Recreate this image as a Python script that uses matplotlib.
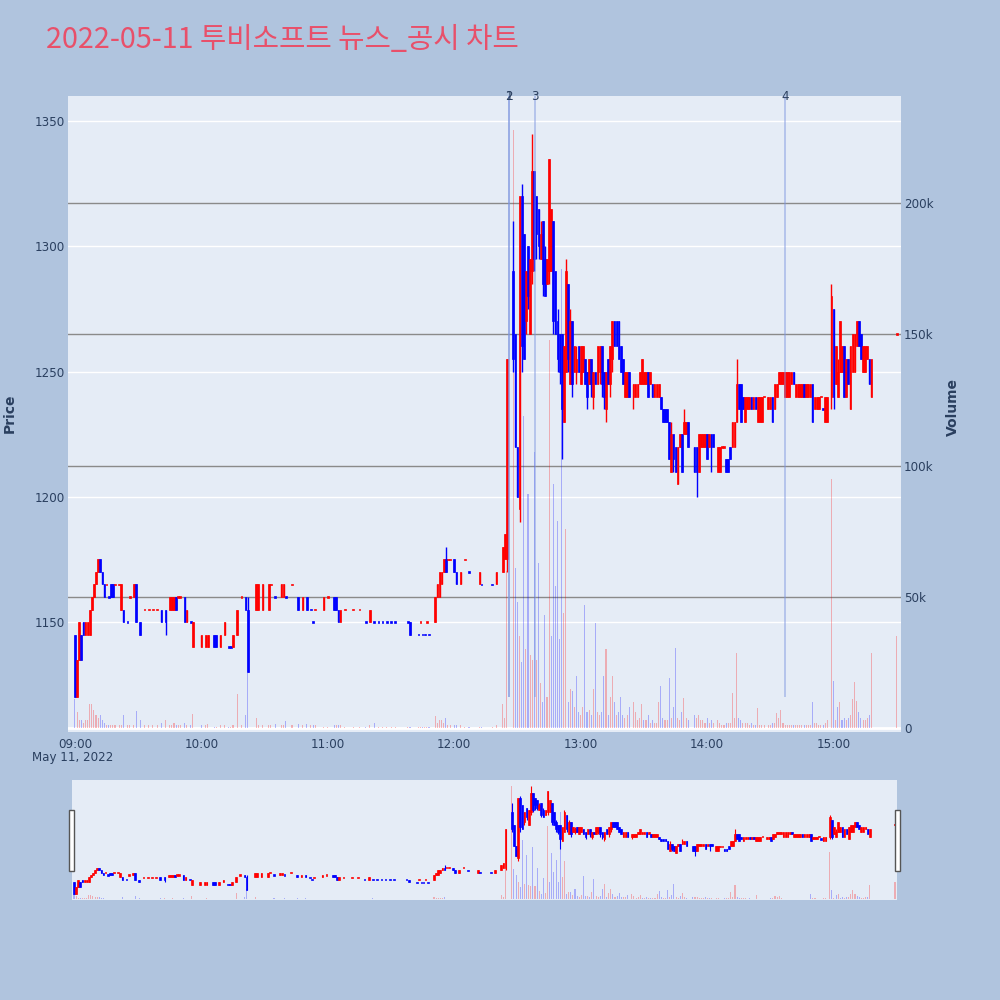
import matplotlib.pyplot as plt
import numpy as np
from matplotlib.patches import Rectangle
from matplotlib.transforms import blended_transform_factory

plt.rcParams['font.family'] = ['DejaVu Sans', 'Noto Sans CJK KR']

title = '2022-05-11 투비소프트 뉴스_공시 차트'

# minutes after 09:00, one row per traded minute (segments roughly hourly)
minutes = [
    0, 1, 2, 3, 4, 5, 6, 7, 8, 9, 10, 11, 12, 13, 14, 15, 16, 17, 18, 19, 21, 22, 23, 25, 26, 28, 29, 31, 33, 35, 37, 39, 41, 43, 45, 46, 47, 48, 49, 50, 52, 53, 55, 56, 60, 62,
    63, 66, 67, 69, 71, 73, 74, 75, 77, 79, 81, 82, 86, 87, 89, 92, 93, 95, 98, 99, 100, 103, 106, 108, 110, 112, 113, 114, 118, 120, 123, 124, 125, 126,
    128, 132, 135, 138, 140, 142, 144, 146, 148, 150, 152, 158, 159, 163, 164, 165, 166, 167, 168, 171, 172, 173, 174, 175, 176, 177, 178, 180, 181, 183, 185, 187, 192, 193, 198, 200,
    203, 204, 205, 208, 209, 210, 211, 212, 213, 214, 215, 216, 217, 218, 219, 220, 221, 222, 223, 224, 225, 226, 227, 228, 229, 230, 231, 232, 233, 234, 235, 236, 237, 238, 239, 240, 241, 242, 243, 244, 245, 246, 247, 248, 249, 250, 251, 252, 253, 254, 255, 256,
    257, 258, 259, 260, 261, 262, 263, 265, 266, 267, 268, 269, 270, 271, 272, 273, 274, 275, 276, 277, 278, 279, 280, 281, 282, 283, 284, 285, 286, 287, 288, 289, 290, 291, 294, 295, 296, 297, 298, 299, 300, 301, 302, 303, 305, 306, 307, 308, 309, 310, 311, 312, 313, 314, 315, 316, 317, 318, 319, 320,
    321, 322, 323, 324, 325, 326, 327, 329, 330, 331, 332, 333, 334, 335, 336, 337, 338, 339, 340, 341, 342, 343, 344, 345, 346, 347, 348, 349, 350, 351, 352, 353, 354, 355, 356, 357, 359, 360, 361, 362, 363, 364, 365, 366, 367, 368, 369, 370, 371, 372, 373, 374, 375, 376, 377, 378, 390,
]
opens = [
    1145, 1120, 1135, 1145, 1150, 1145, 1145, 1145, 1155, 1160, 1165, 1170, 1175, 1170, 1165, 1165, 1160, 1165, 1165, 1165, 1165, 1155, 1155, 1150, 1160, 1160, 1165, 1150, 1155, 1155, 1155, 1155, 1155, 1155, 1155, 1155, 1155, 1160, 1160, 1160, 1160, 1150, 1150, 1140, 1140, 1140,
    1140, 1145, 1145, 1140, 1145, 1140, 1140, 1140, 1145, 1160, 1160, 1155, 1155, 1155, 1155, 1155, 1165, 1160, 1160, 1160, 1160, 1165, 1160, 1155, 1160, 1155, 1150, 1155, 1155, 1160, 1160, 1160, 1155, 1150,
    1155, 1155, 1155, 1150, 1150, 1150, 1150, 1150, 1150, 1150, 1150, 1150, 1150, 1145, 1150, 1145, 1145, 1150, 1145, 1150, 1160, 1160, 1165, 1170, 1175, 1175, 1175, 1175, 1170, 1165, 1175, 1170, 1165, 1165, 1165, 1165,
    1170, 1175, 1175, 1290, 1265, 1220, 1195, 1320, 1305, 1270, 1300, 1265, 1290, 1330, 1320, 1315, 1295, 1310, 1295, 1285, 1290, 1290, 1310, 1290, 1270, 1265, 1265, 1230, 1250, 1285, 1245, 1270, 1250, 1250, 1260, 1245, 1250, 1255, 1250, 1245, 1255, 1240, 1250, 1245, 1250, 1260, 1250, 1235, 1255, 1245, 1255, 1270,
    1270, 1270, 1260, 1255, 1240, 1240, 1250, 1240, 1240, 1240, 1245, 1245, 1245, 1245, 1250, 1245, 1245, 1240, 1240, 1240, 1240, 1235, 1235, 1235, 1230, 1210, 1225, 1220, 1205, 1220, 1225, 1225, 1225, 1230, 1220, 1220, 1210, 1220, 1220, 1220, 1225, 1220, 1225, 1225, 1210, 1210, 1220, 1220, 1215, 1215, 1220, 1220, 1220, 1230, 1245, 1245, 1240, 1230, 1235, 1235,
    1240, 1235, 1240, 1230, 1230, 1230, 1240, 1235, 1235, 1240, 1235, 1240, 1245, 1245, 1245, 1240, 1240, 1240, 1245, 1250, 1240, 1240, 1240, 1240, 1245, 1240, 1240, 1240, 1245, 1235, 1235, 1235, 1240, 1235, 1230, 1230, 1240, 1275, 1245, 1240, 1250, 1250, 1260, 1240, 1255, 1235, 1250, 1250, 1260, 1270, 1265, 1250, 1250, 1255, 1255, 1240, 1265,
]
highs = [
    1145, 1135, 1150, 1145, 1150, 1150, 1150, 1155, 1160, 1165, 1170, 1175, 1175, 1170, 1165, 1165, 1160, 1165, 1165, 1165, 1165, 1165, 1155, 1150, 1160, 1165, 1165, 1150, 1155, 1155, 1155, 1155, 1155, 1155, 1160, 1160, 1160, 1160, 1160, 1160, 1160, 1155, 1150, 1150, 1145, 1145,
    1145, 1145, 1145, 1145, 1150, 1140, 1140, 1145, 1155, 1160, 1160, 1160, 1165, 1165, 1165, 1165, 1165, 1160, 1165, 1165, 1160, 1165, 1160, 1160, 1160, 1155, 1150, 1155, 1160, 1160, 1160, 1160, 1155, 1155,
    1155, 1155, 1155, 1150, 1155, 1150, 1150, 1150, 1150, 1150, 1150, 1150, 1150, 1145, 1150, 1145, 1145, 1150, 1145, 1160, 1165, 1170, 1170, 1175, 1180, 1175, 1175, 1175, 1170, 1170, 1175, 1170, 1170, 1165, 1165, 1170,
    1180, 1185, 1255, 1310, 1265, 1220, 1320, 1325, 1305, 1290, 1300, 1295, 1345, 1330, 1320, 1315, 1310, 1310, 1300, 1295, 1335, 1315, 1310, 1290, 1275, 1265, 1265, 1260, 1295, 1285, 1275, 1270, 1260, 1260, 1260, 1260, 1260, 1255, 1250, 1255, 1255, 1250, 1250, 1260, 1260, 1260, 1250, 1250, 1255, 1260, 1270, 1270,
    1270, 1270, 1260, 1255, 1250, 1250, 1250, 1245, 1245, 1245, 1250, 1255, 1250, 1250, 1250, 1250, 1245, 1245, 1245, 1245, 1240, 1235, 1235, 1235, 1230, 1230, 1225, 1220, 1220, 1225, 1225, 1235, 1230, 1230, 1220, 1220, 1225, 1225, 1225, 1225, 1225, 1225, 1225, 1225, 1220, 1220, 1220, 1220, 1215, 1215, 1220, 1230, 1230, 1255, 1245, 1245, 1240, 1240, 1240, 1240,
    1240, 1240, 1240, 1240, 1240, 1240, 1240, 1240, 1240, 1240, 1245, 1245, 1250, 1250, 1250, 1250, 1250, 1250, 1250, 1250, 1245, 1245, 1245, 1245, 1245, 1245, 1245, 1245, 1245, 1240, 1240, 1240, 1240, 1235, 1240, 1240, 1285, 1275, 1260, 1255, 1270, 1260, 1260, 1255, 1255, 1260, 1265, 1265, 1270, 1270, 1265, 1260, 1260, 1260, 1255, 1255, 1265,
]
lows = [
    1120, 1120, 1135, 1135, 1145, 1145, 1145, 1145, 1155, 1160, 1165, 1170, 1170, 1165, 1160, 1165, 1160, 1160, 1160, 1165, 1165, 1155, 1150, 1150, 1160, 1160, 1150, 1145, 1155, 1155, 1155, 1155, 1150, 1145, 1155, 1155, 1155, 1155, 1160, 1160, 1150, 1150, 1150, 1140, 1140, 1140,
    1140, 1140, 1140, 1140, 1145, 1140, 1140, 1140, 1145, 1160, 1155, 1130, 1155, 1155, 1155, 1155, 1165, 1160, 1160, 1160, 1160, 1165, 1155, 1155, 1155, 1155, 1150, 1155, 1155, 1160, 1155, 1155, 1150, 1150,
    1155, 1155, 1155, 1150, 1150, 1150, 1150, 1150, 1150, 1150, 1150, 1150, 1145, 1145, 1150, 1145, 1145, 1150, 1145, 1150, 1160, 1160, 1165, 1170, 1170, 1175, 1175, 1170, 1165, 1165, 1175, 1170, 1165, 1165, 1165, 1165,
    1170, 1175, 1170, 1250, 1220, 1200, 1190, 1250, 1255, 1265, 1275, 1265, 1285, 1290, 1295, 1295, 1295, 1280, 1280, 1285, 1285, 1290, 1265, 1265, 1250, 1245, 1215, 1230, 1250, 1250, 1245, 1240, 1250, 1245, 1250, 1245, 1250, 1245, 1235, 1245, 1240, 1235, 1245, 1245, 1245, 1240, 1235, 1230, 1245, 1240, 1250, 1260,
    1260, 1255, 1250, 1245, 1240, 1240, 1240, 1235, 1240, 1240, 1245, 1245, 1245, 1245, 1240, 1245, 1240, 1240, 1240, 1240, 1235, 1230, 1230, 1230, 1215, 1210, 1210, 1210, 1205, 1220, 1210, 1225, 1225, 1220, 1210, 1200, 1210, 1220, 1220, 1220, 1215, 1220, 1210, 1220, 1210, 1210, 1220, 1220, 1210, 1210, 1215, 1220, 1220, 1230, 1235, 1230, 1235, 1230, 1235, 1235,
    1235, 1235, 1235, 1230, 1230, 1230, 1240, 1235, 1235, 1230, 1235, 1240, 1245, 1245, 1245, 1240, 1240, 1240, 1245, 1245, 1240, 1240, 1240, 1240, 1240, 1240, 1240, 1240, 1230, 1235, 1235, 1235, 1240, 1235, 1230, 1230, 1235, 1235, 1245, 1240, 1250, 1250, 1240, 1240, 1245, 1235, 1250, 1250, 1260, 1260, 1255, 1250, 1250, 1255, 1245, 1240, 1265,
]
closes = [
    1120, 1135, 1150, 1135, 1145, 1150, 1150, 1155, 1160, 1165, 1170, 1175, 1170, 1165, 1160, 1165, 1160, 1160, 1160, 1165, 1165, 1165, 1150, 1150, 1160, 1165, 1150, 1145, 1155, 1155, 1155, 1155, 1150, 1150, 1160, 1160, 1160, 1155, 1160, 1160, 1150, 1155, 1150, 1150, 1145, 1145,
    1145, 1140, 1140, 1145, 1150, 1140, 1140, 1145, 1155, 1160, 1155, 1130, 1165, 1165, 1165, 1165, 1165, 1160, 1165, 1165, 1160, 1165, 1155, 1160, 1155, 1155, 1150, 1155, 1160, 1160, 1155, 1155, 1150, 1155,
    1155, 1155, 1155, 1150, 1155, 1150, 1150, 1150, 1150, 1150, 1150, 1150, 1145, 1145, 1150, 1145, 1145, 1150, 1145, 1160, 1165, 1170, 1170, 1175, 1170, 1175, 1175, 1170, 1165, 1170, 1175, 1170, 1170, 1165, 1165, 1170,
    1180, 1185, 1255, 1255, 1220, 1200, 1320, 1260, 1255, 1290, 1280, 1295, 1330, 1295, 1305, 1300, 1305, 1285, 1280, 1295, 1335, 1315, 1270, 1265, 1255, 1250, 1235, 1260, 1290, 1255, 1270, 1245, 1260, 1255, 1250, 1260, 1260, 1245, 1240, 1255, 1245, 1250, 1245, 1260, 1260, 1245, 1240, 1250, 1245, 1260, 1270, 1260,
    1260, 1255, 1250, 1245, 1250, 1250, 1240, 1245, 1245, 1245, 1250, 1255, 1250, 1250, 1240, 1250, 1240, 1245, 1245, 1245, 1235, 1230, 1230, 1230, 1215, 1225, 1215, 1210, 1220, 1225, 1210, 1230, 1230, 1220, 1210, 1210, 1225, 1225, 1225, 1225, 1215, 1225, 1220, 1220, 1220, 1220, 1220, 1220, 1210, 1210, 1215, 1230, 1230, 1245, 1235, 1230, 1235, 1240, 1240, 1240,
    1235, 1240, 1235, 1240, 1240, 1240, 1240, 1240, 1240, 1230, 1245, 1245, 1250, 1250, 1250, 1250, 1250, 1250, 1250, 1245, 1245, 1245, 1245, 1245, 1240, 1245, 1245, 1245, 1230, 1240, 1240, 1240, 1240, 1235, 1240, 1240, 1280, 1240, 1260, 1250, 1270, 1260, 1240, 1255, 1245, 1260, 1265, 1265, 1270, 1260, 1255, 1260, 1260, 1260, 1245, 1255, 1265,
]
# volume in thousands of shares
volumes = [
    11, 6, 3, 3, 2, 3, 3, 9, 9, 7, 5, 4, 5, 3, 2, 1, 1, 1, 1, 1, 1, 1, 5, 1, 1, 1, 6.5, 3, 1, 1, 1, 1, 2, 3, 1, 1, 2, 1, 1, 1, 2, 1, 1, 5.5, 1, 1,
    1.5, 0.5, 0.5, 1, 1, 0.5, 0.5, 1, 13, 1, 5, 21, 4, 1, 1, 1, 1, 1.5, 1, 1, 2.6, 1, 1.5, 1, 1.5, 1, 1, 1, 0.5, 0.5, 1, 1, 1, 1,
    0.5, 0.5, 0.5, 0.5, 1, 2, 0.5, 0.5, 0.5, 0.5, 0.5, 0.5, 0.5, 0.5, 0.5, 0.5, 0.5, 0.5, 0.5, 4.6, 2, 3, 3, 2, 3.8, 1, 1, 1, 1, 1, 0.5, 0.5, 0.5, 0.5, 0.5, 1,
    9, 4, 60, 228, 61, 48, 35, 25, 119, 30, 89, 28, 26, 105, 26, 63, 17, 10, 43, 12, 148, 35, 93, 54, 79, 34, 175, 44, 76, 10, 15, 14, 8, 20, 6, 5, 8, 47, 6, 7, 5, 15, 40, 6, 5, 6, 20, 30, 5, 12, 20, 10,
    5, 6, 12, 5, 4, 5, 8, 10, 6, 3, 4, 9, 3, 3, 5, 2, 3, 2, 2, 10, 16, 4, 3, 3, 19, 4, 8, 30.5, 4, 3, 6, 11.5, 4, 3, 5, 4, 5, 3, 3, 2, 4, 2, 3, 2, 3, 2, 1, 1, 2, 2, 2, 13.5, 4, 28.6, 4, 3, 2, 2, 2, 1,
    2, 1, 1, 7.6, 1, 1, 1, 1, 1, 2, 2, 5.7, 4, 6.8, 2, 1, 1, 1, 1, 1, 1, 1, 1, 1, 1, 1, 1, 1, 10, 2, 2, 1, 1, 1, 2, 3, 95, 18, 3, 8, 10, 3, 4, 3, 4, 5, 11, 17.6, 10.5, 6, 4, 3, 3, 4, 5, 28.6, 35,
]
assert len({len(minutes), len(opens), len(highs), len(lows), len(closes), len(volumes)}) == 1

# disclosure / news markers
event_labels = ['1', '2', '3', '4']
event_minutes = [206, 206, 218.3, 337]

hour_ticks = [0, 60, 120, 180, 240, 300, 360]
hour_labels = ['09:00', '10:00', '11:00', '12:00', '13:00', '14:00', '15:00']
price_ticks = [1150, 1200, 1250, 1300, 1350]
vol_ticks = [0, 50, 100, 150, 200]
vol_labels = ['0', '50k', '100k', '150k', '200k']

RED, BLUE = '#ff0000', '#0000ff'
TXT = '#2a3f5f'
BG = '#b0c4de'
PLOT_BG = '#e5ecf6'

m = np.array(minutes, float)
o = np.array(opens, float)
h = np.array(highs, float)
l = np.array(lows, float)
c = np.array(closes, float)
v = np.array(volumes, float)

# candle direction: close vs open, ties decided by previous close
cdir = []
prev_c, prev_d = None, -1
for oi, ci in zip(o, c):
    if ci > oi:
        d = 1
    elif ci < oi:
        d = -1
    elif prev_c is None or ci == prev_c:
        d = prev_d
    else:
        d = 1 if ci > prev_c else -1
    cdir.append(d)
    prev_c, prev_d = ci, d
candle_cols = [RED if d > 0 else BLUE for d in cdir]
prev_close = np.concatenate([[o[0]], c[:-1]])
vol_cols = [RED if ci >= pc else BLUE for ci, pc in zip(c, prev_close)]


def draw(ax_p, ax_v, min_h, body_w, wick_lw, vol_w):
    ax_v.bar(m, v, width=vol_w, color=vol_cols, alpha=0.27, linewidth=0)
    ax_p.vlines(m, l, h, colors=candle_cols, linewidth=wick_lw)
    mid = (o + c) / 2
    hh = np.maximum(np.abs(c - o), min_h)
    ax_p.bar(m, hh, bottom=mid - hh / 2, width=body_w, color=candle_cols,
             edgecolor=candle_cols, linewidth=0.5)


fig = plt.figure(figsize=(10, 10), dpi=100, facecolor=BG)

# main chart
ax_v = fig.add_axes([0.068, 0.268, 0.833, 0.636])
ax_v.set_facecolor(PLOT_BG)
ax_p = ax_v.twinx()
ax_p.yaxis.tick_left()
ax_v.yaxis.tick_right()

ax_v.set_xlim(-3.3, 392.0)
ax_v.set_ylim(-1.5, 240.8)
ax_p.set_ylim(1106.1, 1360.0)

# volume grid (grey) and zero line, price grid (white) below the candles
for t in vol_ticks[1:]:
    ax_v.axhline(t, color='#8a8a8a', lw=1, zorder=0)
ax_v.axhline(0, color='white', lw=2, zorder=0)
ptrans = blended_transform_factory(ax_v.transAxes, ax_p.transData)
for p in price_ticks:
    ax_v.plot([0, 1], [p, p], color='white', lw=1, transform=ptrans, zorder=0)

draw(ax_p, ax_v, min_h=0.7, body_w=0.8, wick_lw=1.0, vol_w=0.5)

etrans = blended_transform_factory(ax_p.transData, ax_p.transAxes)
for lab, em in zip(event_labels, event_minutes):
    ax_p.vlines(em, 1120, 1360, color='#7d96e0', alpha=0.55, lw=1.2)
    ax_p.text(em, 1.0, lab, transform=etrans, ha='center', va='center',
              fontsize=8.6, color=TXT)

ax_v.set_xticks(hour_ticks)
ax_v.set_xticklabels(hour_labels)
ax_v.set_yticks(vol_ticks)
ax_v.set_yticklabels(vol_labels)
ax_p.set_yticks(price_ticks)
for ax in (ax_v, ax_p):
    ax.tick_params(length=0, labelsize=8.6, labelcolor=TXT)
    for s in ax.spines.values():
        s.set_visible(False)
ax_v.tick_params(axis='x', pad=4)
ax_v.tick_params(axis='y', pad=2)
ax_p.tick_params(axis='y', pad=2)

fig.text(0.073, 0.243, 'May 11, 2022', ha='center', va='center', fontsize=8.6, color=TXT)
fig.text(0.010, 0.587, 'Price', rotation=90, ha='center', va='center',
         fontsize=10, color=TXT, fontweight='bold')
fig.text(0.953, 0.593, 'Volume', rotation=90, ha='center', va='center',
         fontsize=10, color=TXT, fontweight='bold')
fig.text(0.046, 0.960, title, ha='left', va='center', fontsize=20.7,
         color='#e8506a', family=['Noto Sans CJK KR', 'DejaVu Sans'])

# range slider
sv = fig.add_axes([0.072, 0.100, 0.825, 0.120])
sv.set_facecolor(PLOT_BG)
sp = sv.twinx()
sv.set_xlim(-0.95, 390.95)
sv.set_ylim(-2, 240.1)
sp.set_ylim(1108.2, 1357.5)
draw(sp, sv, min_h=2.5, body_w=0.8, wick_lw=0.8, vol_w=0.5)
for ax in (sv, sp):
    ax.set_xticks([])
    ax.set_yticks([])
    for s in ax.spines.values():
        s.set_visible(False)

for hx in (0.069, 0.895):
    fig.add_artist(Rectangle((hx, 0.129), 0.005, 0.061, transform=fig.transFigure,
                             facecolor='white', edgecolor='#555555', lw=1))

fig.savefig('out.png', dpi=100, facecolor=BG)
